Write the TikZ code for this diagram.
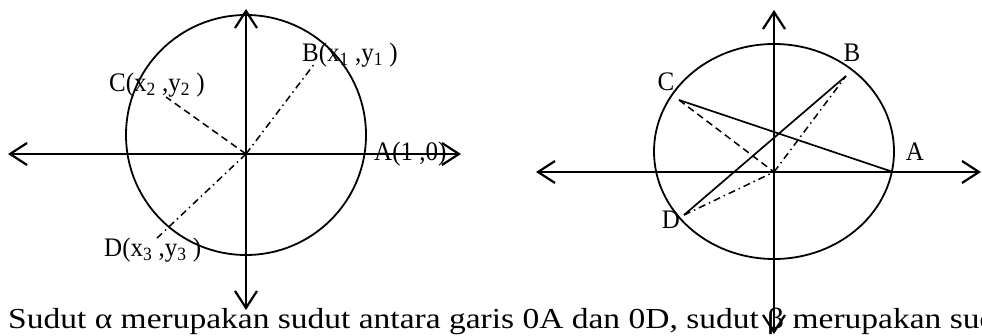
\documentclass[tikz,border=0pt]{standalone}
\usepackage{fontspec}
\setmainfont{Liberation Serif}
\usetikzlibrary{arrows.meta}
\begin{document}
\begin{tikzpicture}[x=1pt,y=1pt,
  axis/.style={line width=2.2pt,{Straight Barb[length=17pt,width=22pt]}-{Straight Barb[length=17pt,width=22pt]}},
  curve/.style={line width=1.8pt},
  solidline/.style={line width=1.7pt},
  dashline/.style={line width=1.5pt,dash pattern=on 7pt off 4.5pt},
  dotdash/.style={line width=1.5pt,dash pattern=on 7pt off 4pt on 1.5pt off 4pt},
  lbl/.style={inner sep=0pt,font=\fontsize{25}{29}\selectfont,yscale=1.07,transform shape},
  txt/.style={inner sep=0pt,font=\fontsize{29}{34}\selectfont,xscale=1.155,transform shape}]
\useasboundingbox (0,0) rectangle (982,336);
\clip (0,0) rectangle (982,336);
% ---------- left diagram ----------
\coordinate (LO) at (246,182);
\coordinate (LW) at (8,182);
\coordinate (LE) at (461,182);
\coordinate (LN) at (246,327);
\coordinate (LS) at (246,26);
\coordinate (LB) at (315,273);
\coordinate (LC) at (166,239);
\coordinate (LD) at (155,96);
\draw[curve] (246,201) circle[radius=120];
\draw[axis] (LW) -- (LE);
\draw[axis] (LN) -- (LS);
\draw[dotdash] (LO) -- (LB);
\draw[dashline] (LO) -- (LC);
\draw[dotdash] (LO) -- (LD);
\node[lbl,anchor=west] (lbB) at (302,281) {B(x\textsubscript{1} ,y\textsubscript{1} )};
\node[lbl,anchor=west] (lbC) at (109,251) {C(x\textsubscript{2} ,y\textsubscript{2} )};
\node[lbl,anchor=west] (lbA) at (374,182) {A(1 ,0)};
\node[lbl,anchor=west] (lbD) at (104,86) {D(x\textsubscript{3} ,y\textsubscript{3} )};
% ---------- right diagram ----------
\coordinate (RO) at (774,164);
\coordinate (RW) at (536,164);
\coordinate (RE) at (981,164);
\coordinate (RN) at (774,326);
\coordinate (RS) at (774,2);
\coordinate (RA) at (893,164);
\coordinate (RB) at (846,260);
\coordinate (RC) at (679,236);
\coordinate (RD) at (684,121);
\draw[curve] (774,184.5) ellipse[x radius=120,y radius=107.5];
\draw[axis] (RW) -- (RE);
\draw[axis] (RN) -- (RS);
\draw[solidline] (RC) -- (RA);
\draw[solidline] (RD) -- (RB);
\draw[dashline] (RC) -- (RO);
\draw[dotdash] (RO) -- (RB);
\draw[dotdash] (RD) -- (RO);
\node[lbl] (rlC) at (666,254) {C};
\node[lbl] (rlB) at (852,283) {B};
\node[lbl] (rlA) at (915,184) {A};
\node[lbl] (rlD) at (671,116) {D};
% ---------- caption ----------
\node[txt,anchor=base west] (cap) at (8,7) {Sudut α merupakan sudut antara garis 0A dan 0D, sudut β merupakan sud};
\end{tikzpicture}
\end{document}
